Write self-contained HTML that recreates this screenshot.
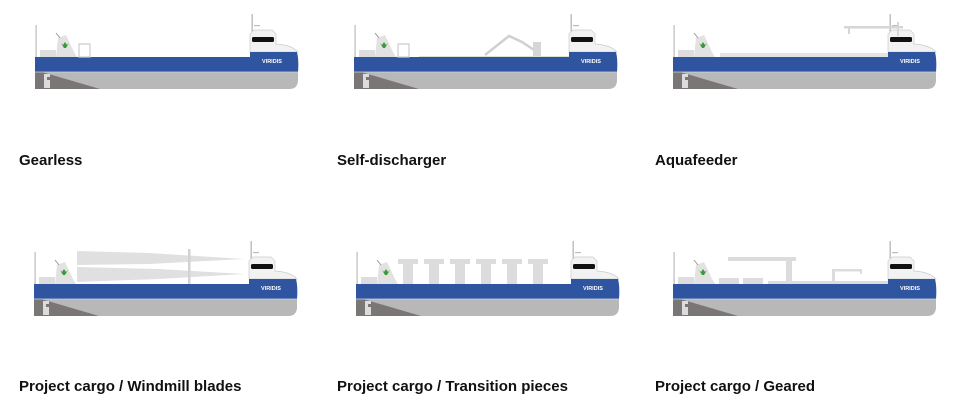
<!DOCTYPE html>
<html><head><meta charset="utf-8"><style>
html,body{margin:0;padding:0;background:#fff;width:956px;height:412px;overflow:hidden}
svg{display:block}
text.l{font-family:"Liberation Sans",sans-serif;font-weight:bold;font-size:15px;fill:#111}
</style></head><body>
<svg width="956" height="412" viewBox="0 0 956 412" xmlns="http://www.w3.org/2000/svg">
<defs>
<g id="ship">
  <rect x="35.5" y="25" width="1.2" height="33" fill="#bbb"/>
  <rect x="40" y="50" width="16" height="7" fill="#ddd"/>
  <polygon points="58,38 66,35 74,52 77,57 56,57" fill="#e2e2e2"/>
  <line x1="56" y1="33" x2="60" y2="38" stroke="#999" stroke-width="1"/>
  <path d="M61,43 l2,2 l2,-3 l2,3 l2,-2 l-3,5 l-2,0 z" fill="#3a9a3a"/>
  <path d="M35,72 H298 V80 Q298,89 289,89 H35 Z" fill="#b8b8b8"/>
  <path d="M35,72 H42 L100,89 H35 Z" fill="#7a7676"/>
  <path d="M44,74 h6 v3 h-3 v3 h3 v8 h-6 z" fill="#dcdcdc"/>
  <rect x="251.5" y="14" width="1.4" height="18" fill="#bbb"/>
  <rect x="254" y="25" width="6" height="1.2" fill="#bbb"/>
  <path d="M250,52 V34 L254,30 H272 L276,34 V44 Q292,45 298,52 Z" fill="#f2f2f2" stroke="#ccc" stroke-width="0.7"/>
  <rect x="252" y="37" width="22" height="5" rx="1.5" fill="#111"/>
  <path d="M35,57 H250 V52 H297 Q299,60 298,72 H35 Z" fill="#2f55a0"/>
  <line x1="35" y1="72" x2="298" y2="72" stroke="#cfd6e6" stroke-width="0.8"/>
  <text x="262" y="63" font-family="Liberation Sans,sans-serif" font-weight="bold" font-size="5.5" fill="#fff">VIRIDIS</text>
</g>
</defs>

<g>
  <use href="#ship"/>
  <rect x="79" y="44" width="11" height="13" fill="none" stroke="#ccc" stroke-width="1.2"/>
</g>
<g transform="translate(319,0)">
  <use href="#ship"/>
  <rect x="79" y="44" width="11" height="13" fill="none" stroke="#ccc" stroke-width="1.2"/>
  <path d="M166,55 L190,36 L203,42 L218,52" fill="none" stroke="#d0d0d0" stroke-width="2.5"/>
  <rect x="214" y="42" width="8" height="15" fill="#d6d6d6"/>
  <line x1="100" y1="56.5" x2="250" y2="56.5" stroke="#e0e0d0" stroke-width="1"/>
</g>
<g transform="translate(638,0)">
  <use href="#ship"/>
  <rect x="82" y="53" width="168" height="4" fill="#e4e4e4"/>
  <rect x="206" y="26" width="52" height="2.5" fill="#d6d6d6"/>
  <rect x="210" y="26" width="2" height="8" fill="#d6d6d6"/>
  <rect x="259" y="22" width="2" height="14" fill="#d6d6d6"/>
  <rect x="253" y="26" width="12" height="2.5" fill="#d6d6d6"/>
</g>
<g transform="translate(-1,227)">
  <use href="#ship"/>
  <path d="M78,55 V24 L150,26 L245,32 L150,37 L78,38 Z" fill="#e0e0e0"/>
  <path d="M78,40 L160,42 L245,47 L160,52 L78,55 Z" fill="#e0e0e0"/>
  <rect x="189" y="22" width="2.5" height="35" fill="#d2d2d2"/>
</g>
<g transform="translate(321,227)">
  <use href="#ship"/>
  <g fill="#dcdcdc">
    <rect x="77" y="32" width="20" height="5"/><rect x="82" y="32" width="10" height="25"/>
    <rect x="103" y="32" width="20" height="5"/><rect x="108" y="32" width="10" height="25"/>
    <rect x="129" y="32" width="20" height="5"/><rect x="134" y="32" width="10" height="25"/>
    <rect x="155" y="32" width="20" height="5"/><rect x="160" y="32" width="10" height="25"/>
    <rect x="181" y="32" width="20" height="5"/><rect x="186" y="32" width="10" height="25"/>
    <rect x="207" y="32" width="20" height="5"/><rect x="212" y="32" width="10" height="25"/>
  </g>
</g>
<g transform="translate(638,227)">
  <use href="#ship"/>
  <g fill="#dcdcdc">
    <rect x="81" y="51" width="20" height="6"/>
    <rect x="105" y="51" width="20" height="6"/>
    <rect x="90" y="30" width="68" height="4"/>
    <rect x="148" y="30" width="6" height="27"/>
    <rect x="130" y="54" width="120" height="3"/>
    <rect x="194" y="42" width="3" height="12"/>
    <rect x="194" y="42" width="30" height="2.5"/>
    <rect x="222" y="42" width="2" height="5"/>
  </g>
</g>

<text class="l" x="19" y="165">Gearless</text>
<text class="l" x="337" y="165">Self-discharger</text>
<text class="l" x="655" y="165">Aquafeeder</text>
<text class="l" x="19" y="391">Project cargo / Windmill blades</text>
<text class="l" x="337" y="391">Project cargo / Transition pieces</text>
<text class="l" x="655" y="391">Project cargo / Geared</text>
</svg>
</body></html>
